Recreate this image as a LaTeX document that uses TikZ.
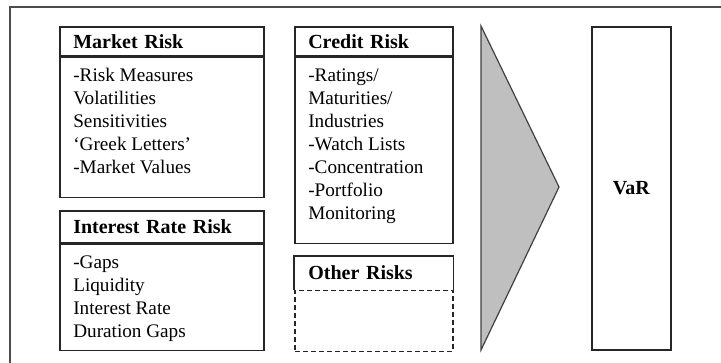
\documentclass[tikz,border=0pt]{standalone}
\usepackage{fontspec}
\setmainfont{Liberation Serif}
\usetikzlibrary{positioning}

\begin{document}
\begin{tikzpicture}[
  x=0.5pt,
  y=-0.5pt,
  head/.style={
    rectangle,
    draw=black!85,
    line width=0.8pt,
    anchor=north west,
    inner xsep=6.75pt,
    inner ysep=0pt,
    align=left,
    font=\fontsize{10}{12}\selectfont\bfseries
  },
  body/.style={
    rectangle,
    draw=black!85,
    line width=0.8pt,
    anchor=north west,
    inner xsep=6.75pt,
    inner ysep=0pt,
    font=\fontsize{9.6}{11.5}\selectfont
  },
  frame/.style={
    draw=black!70,
    line width=0.6pt
  }
]

  \useasboundingbox (0,0) rectangle (721,363);

  % Outer frame (cut off right and bottom)
  \draw[frame] (10,380) |- (740,7);

  % Market Risk
  \node[head, text width=88.5pt, minimum height=14.5pt] (market) at (59,26) {Market Risk};
  \node[body] (marketbody) at (market.south west) {\begin{minipage}[t][70pt][t]{88.5pt}\rule{0pt}{12pt}-Risk Measures\\
    Volatilities\\
    Sensitivities\\
    `Greek Letters'\\
    -Market Values\end{minipage}};

  % Interest Rate Risk
  \node[head, text width=88.5pt, minimum height=16pt] (interest) at (59,210) {Interest Rate Risk};
  \node[body] (interestbody) at (interest.south west) {\begin{minipage}[t][53pt][t]{88.5pt}\rule{0pt}{12pt}-Gaps\\
    Liquidity\\
    Interest Rate\\
    Duration Gaps\end{minipage}};

  % Credit Risk
  \node[head, text width=65.5pt, minimum height=14.5pt] (credit) at (294,26) {Credit Risk};
  \node[body] (creditbody) at (credit.south west) {\begin{minipage}[t][93pt][t]{65.5pt}\rule{0pt}{12pt}-Ratings/\\
    Maturities/\\
    Industries\\
    -Watch Lists\\
    -Concentration\\
    -Portfolio\\
    Monitoring\end{minipage}};

  % Other Risks
  \node[head, draw=none, text width=65.5pt, minimum height=16pt] (other) at (294,256) {Other Risks};
  \node[body, dash pattern=on 2.5pt off 1.5pt, minimum width=79pt, minimum height=30.5pt] (otherbody) at (other.south west) {};
  \draw[black!85, line width=0.8pt] (other.south west) |- (other.north east) -- (other.south east);

  % Aggregation arrow
  \filldraw[fill=black!25, draw=black!75, line width=0.6pt] (481,26) -- (559,187) -- (481,350) -- cycle;

  % VaR
  \node[body, minimum width=39.5pt, minimum height=161.5pt, font=\fontsize{10}{12}\selectfont\bfseries] (var) at (591,26) {VaR};

\end{tikzpicture}
\end{document}
